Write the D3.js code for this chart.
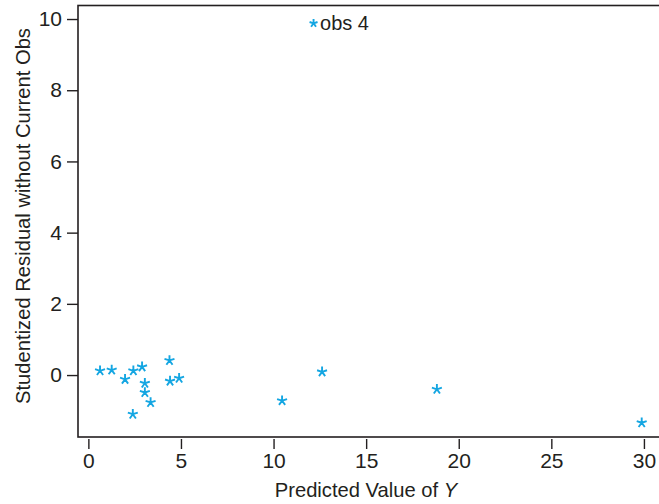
<!DOCTYPE html>
<html><head><meta charset="utf-8">
<script src="https://cdn.jsdelivr.net/npm/d3@7"></script>
<style>
html,body{margin:0;padding:0;background:#fff;}
svg{display:block;}
text{font-family:"Liberation Sans",Arial,Helvetica,sans-serif;fill:#231f20;}
</style></head>
<body>
<svg id="chart" width="659" height="504"></svg>
<script>
// Data
const predicted = [0.63, 1.26, 1.98, 2.43, 2.90, 4.38, 3.05, 3.05, 3.36, 2.40, 4.41, 4.90, 10.46, 12.62, 18.82, 29.88, 12.16];
const residual  = [0.12, 0.14, -0.12, 0.12, 0.23, 0.41, -0.23, -0.49, -0.77, -1.10, -0.17, -0.09, -0.72, 0.09, -0.40, -1.34, 9.88];
const labels    = ["", "", "", "", "", "", "", "", "", "", "", "", "", "", "", "", "obs 4"];
const xTicks = [0, 5, 10, 15, 20, 25, 30];
const yTicks = [0, 2, 4, 6, 8, 10];
const xTitle = "Predicted Value of ";
const xTitleItalic = "Y";
const yTitle = "Studentized Residual without Current Obs";

const svg = d3.select("#chart");
const box = {left: 78, top: 5.5, right: 668, bottom: 437};
const ink = "#231f20";
const blue = "#14a6e2";

const x = d3.scaleLinear().domain([-0.56, 31.3]).range([box.left, box.right]);
const y = d3.scaleLinear().domain([-1.74, 10.38]).range([box.bottom, box.top]);

// frame
svg.append("rect")
  .attr("x", box.left).attr("y", box.top)
  .attr("width", box.right - box.left).attr("height", box.bottom - box.top)
  .attr("fill", "none").attr("stroke", ink).attr("stroke-width", 1.6);

// y axis
const yAxis = svg.append("g")
  .attr("transform", `translate(${box.left},0)`)
  .call(d3.axisLeft(y).tickValues(yTicks).tickSize(11).tickPadding(5).tickFormat(d3.format("d")));
yAxis.select(".domain").remove();
yAxis.selectAll(".tick line").attr("stroke", ink).attr("stroke-width", 1.4);
yAxis.selectAll(".tick text").attr("font-size", 21).attr("fill", ink)
  .attr("font-family", "'Liberation Sans',Arial,sans-serif");

// x axis
const xAxis = svg.append("g")
  .attr("transform", `translate(0,${box.bottom + 2})`)
  .call(d3.axisBottom(x).tickValues(xTicks).tickSize(10).tickPadding(4).tickFormat(d3.format("d")));
xAxis.select(".domain").remove();
xAxis.selectAll(".tick line").attr("stroke", ink).attr("stroke-width", 1.4);
xAxis.selectAll(".tick text").attr("font-size", 21).attr("fill", ink)
  .attr("font-family", "'Liberation Sans',Arial,sans-serif");

// titles
const xt = svg.append("text")
  .attr("x", 366).attr("y", 497)
  .attr("text-anchor", "middle").attr("font-size", 20.2);
xt.append("tspan").text(xTitle);
xt.append("tspan").attr("font-style", "italic").text(xTitleItalic);

svg.append("text")
  .attr("transform", `translate(29.5,216) rotate(-90)`)
  .attr("text-anchor", "middle").attr("font-size", 20.2)
  .text(yTitle);

// five-armed asterisk symbol
const asterisk5 = {
  draw(context, size) {
    const r = Math.sqrt(size) / 2;
    for (let i = 0; i < 5; i++) {
      const a = -Math.PI / 2 + i * 2 * Math.PI / 5;
      context.moveTo(0, 0);
      context.lineTo(r * Math.cos(a), r * Math.sin(a));
    }
  }
};
const sym = d3.symbol().type(asterisk5).size(110);

const pts = predicted.map((p, i) => ({x: p, y: residual[i], label: labels[i]}));
svg.append("g").selectAll("path").data(pts).join("path")
  .attr("transform", d => `translate(${x(d.x)},${y(d.y)})`)
  .attr("d", d => d.label ? d3.symbol().type(asterisk5).size(70)() : sym())
  .attr("fill", "none").attr("stroke", blue).attr("stroke-width", 1.9)
  .attr("stroke-linecap", "butt");

svg.append("g").selectAll("text").data(pts.filter(d => d.label)).join("text")
  .attr("x", d => x(d.x) + 6.5).attr("y", d => y(d.y) + 6.5)
  .attr("font-size", 20)
  .text(d => d.label);
</script>
</body></html>
